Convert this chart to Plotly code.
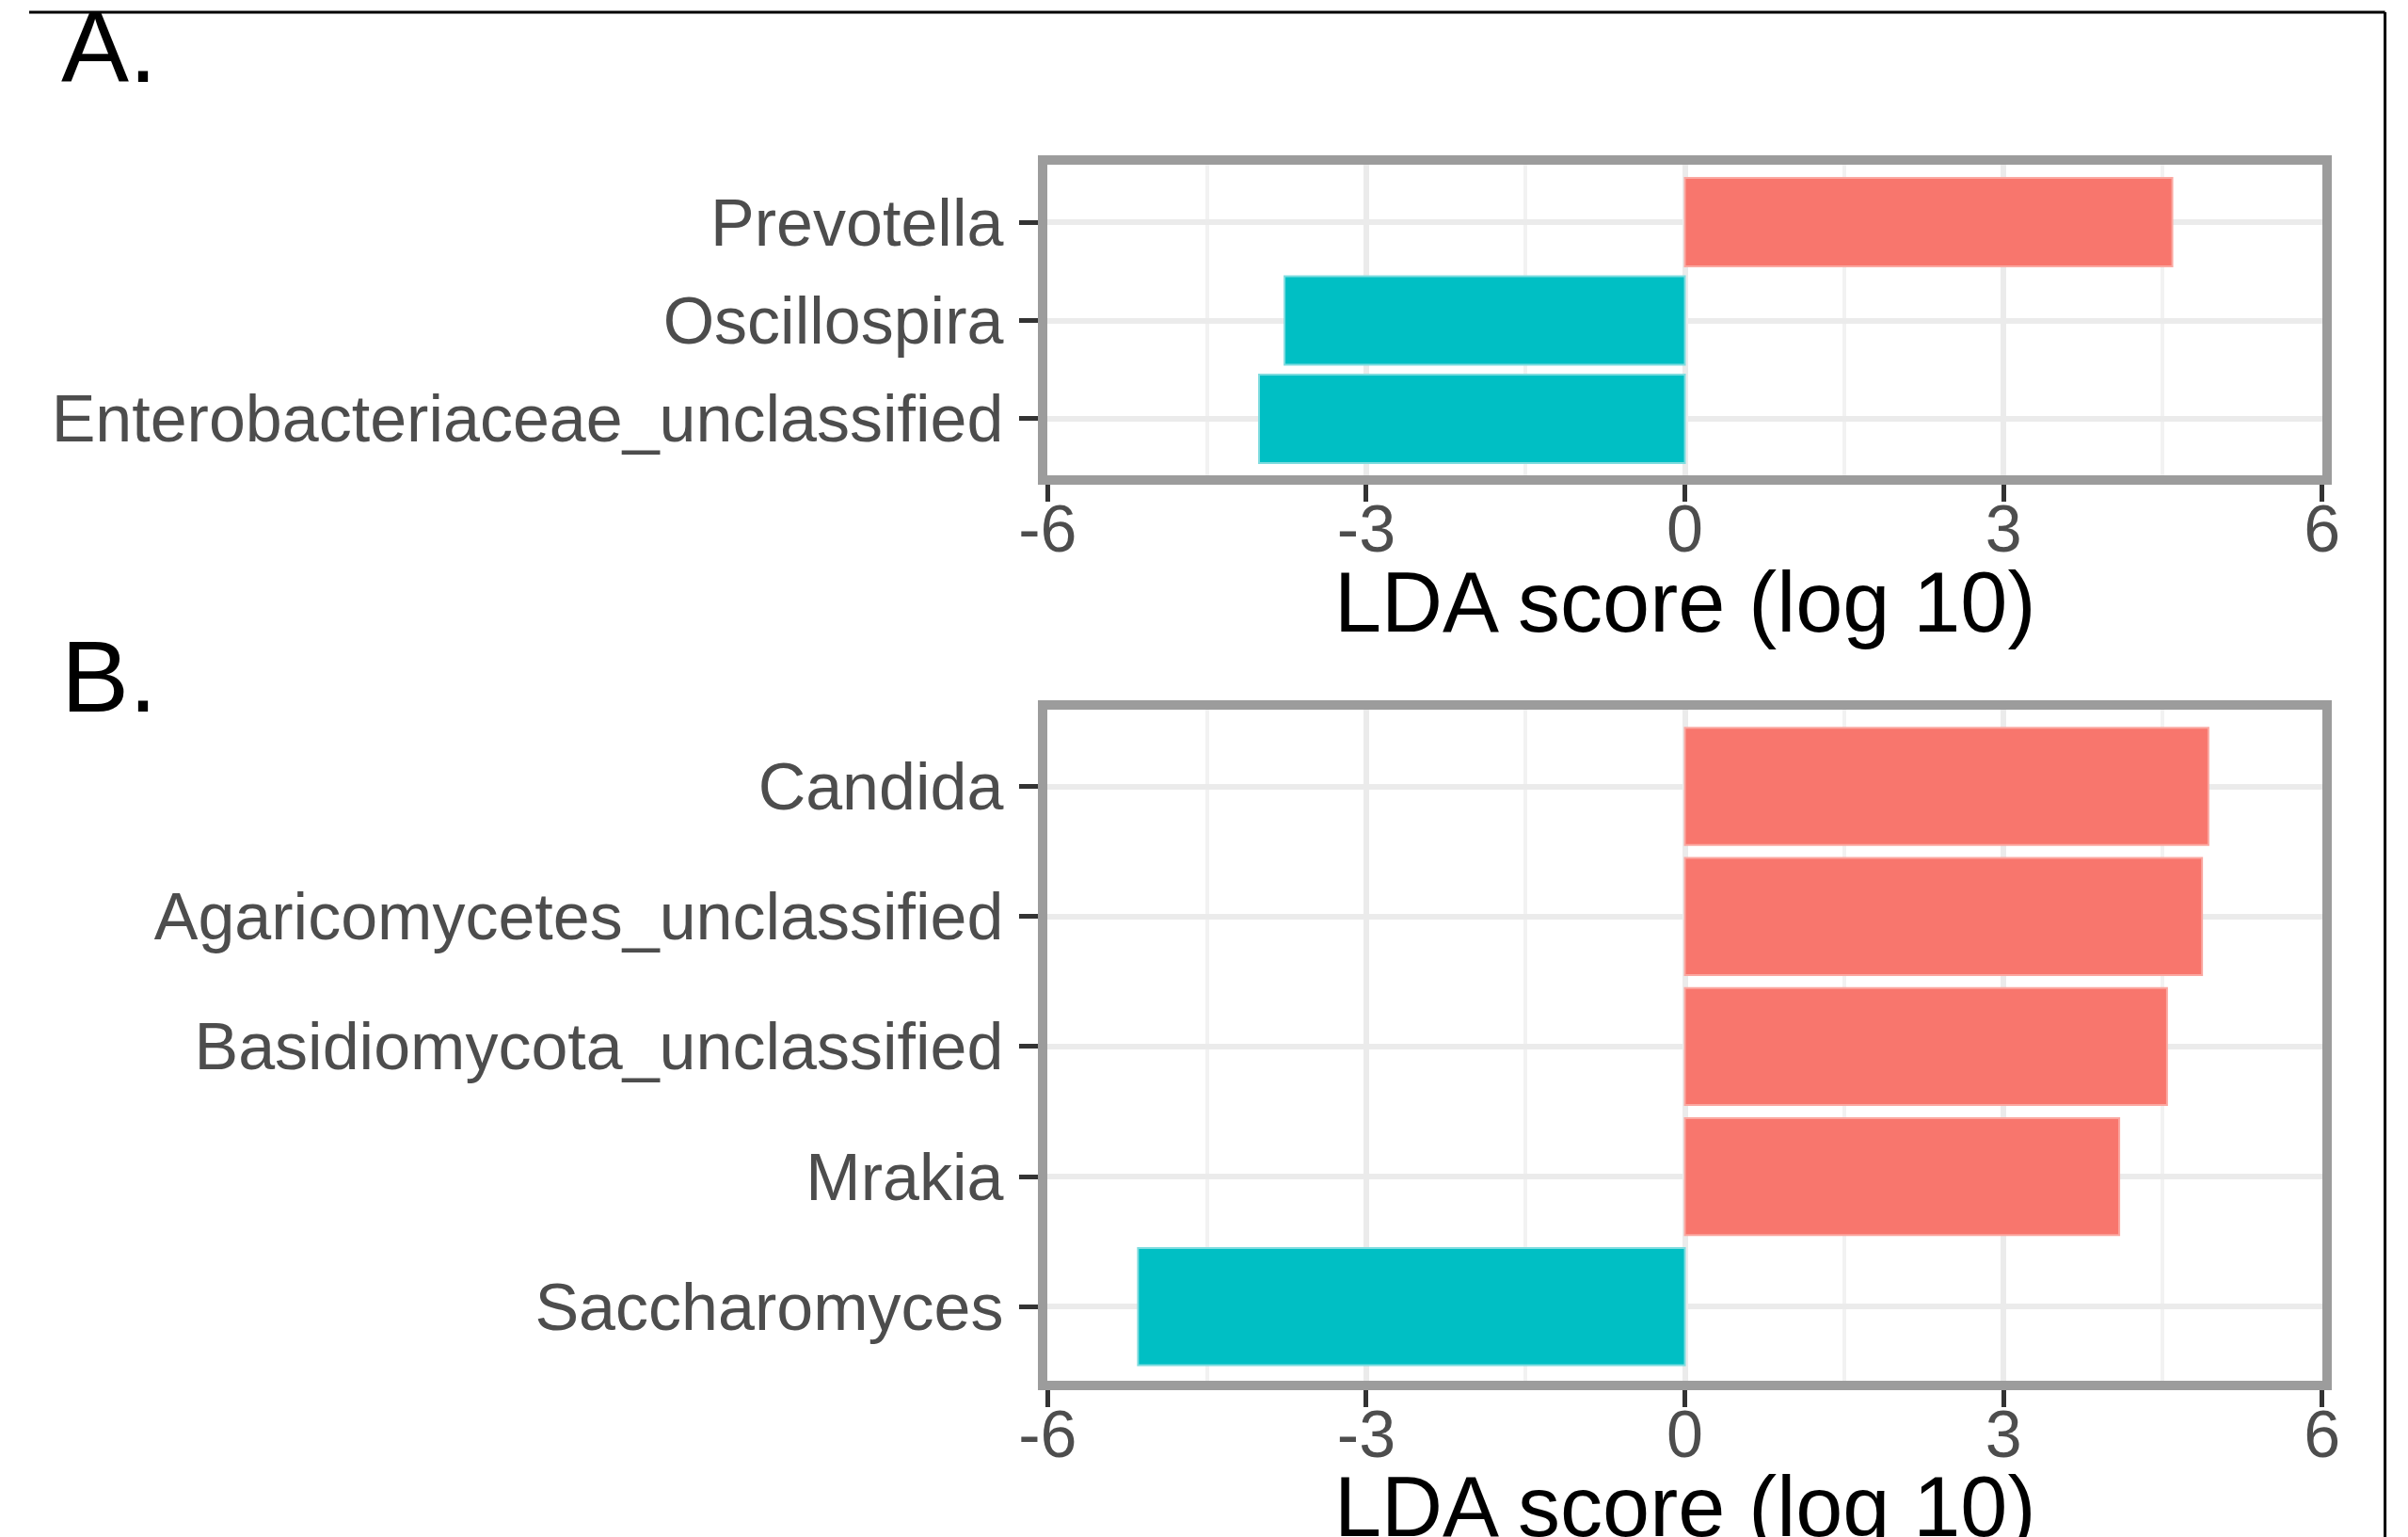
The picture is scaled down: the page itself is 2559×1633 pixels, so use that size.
import plotly.graph_objects as go

W, H = 2559, 1633

# ---- data ----
genera_a = ["Prevotella", "Oscillospira", "Enterobacteriaceae_unclassified"]
lda_a = [4.59, -3.77, -4.01]
genera_b = ["Candida", "Agaricomycetes_unclassified", "Basidiomycota_unclassified",
            "Mrakia", "Saccharomyces"]
lda_b = [4.93, 4.87, 4.54, 4.09, -5.15]
x_ticks = [-6, -3, 0, 3, 6]
x_tick_labels = ["-6", "-3", "0", "3", "6"]
panel_labels = ["A.", "B."]
axis_title = "LDA score (log 10)"

RED, TEAL = "#F8766D", "#00BFC4"
RED_EDGE, TEAL_EDGE = "#FBA8A1", "#7FDCDF"
FONT = "Liberation Sans, Arial, Helvetica, sans-serif"

# the captured picture is slightly squeezed horizontally: x_pic ~ 28 + 0.981 * x
SX, OX = 0.981, 28.0


def fx(p):
    return ((p - OX) / SX) / W


def fy(p):
    return 1 - p / H


def colors(vals):
    return [RED if v > 0 else TEAL for v in vals]


def edges(vals):
    return [RED_EDGE if v > 0 else TEAL_EDGE for v in vals]


fig = go.Figure()
fig.add_trace(go.Bar(x=lda_a, y=genera_a, orientation="h", width=0.9,
                     marker=dict(color=colors(lda_a),
                                 line=dict(color=edges(lda_a), width=2)),
                     xaxis="x", yaxis="y", showlegend=False, hoverinfo="x+y"))
fig.add_trace(go.Bar(x=lda_b, y=genera_b, orientation="h", width=0.9,
                     marker=dict(color=colors(lda_b),
                                 line=dict(color=edges(lda_b), width=2)),
                     xaxis="x2", yaxis="y2", showlegend=False, hoverinfo="x+y"))

xcommon = dict(
    range=[-6, 6], tickmode="array", tickvals=x_ticks, ticktext=x_tick_labels,
    ticks="outside", ticklen=18, tickwidth=5, tickcolor="#333333",
    showline=True, linecolor="#9C9C9C", linewidth=10, mirror=True,
    showgrid=True, gridcolor="#EBEBEB", gridwidth=6, zeroline=False,
    minor=dict(tick0=0, dtick=1.5, showgrid=True, gridcolor="#F2F2F2",
               gridwidth=4, ticks=""),
    tickfont=dict(family=FONT, size=70, color="#4D4D4D"),
    ticklabelstandoff=-31,
    fixedrange=True,
)
ycommon = dict(
    type="category", ticks="outside", ticklen=20, tickwidth=5,
    tickcolor="#333333", showline=True, linecolor="#9C9C9C", linewidth=10,
    mirror=True, showgrid=True, gridcolor="#EBEBEB", gridwidth=6,
    zeroline=False, tickfont=dict(family=FONT, size=70, color="#4D4D4D"),
    ticklabelstandoff=3, fixedrange=True,
)

xdom = [fx(1111), fx(2466)]

fig.update_layout(
    width=W, height=H, autosize=False,
    margin=dict(l=0, r=0, t=0, b=0, pad=0),
    paper_bgcolor="white", plot_bgcolor="white",
    bargap=0.1,
    xaxis=dict(xcommon, domain=xdom, anchor="y"),
    yaxis=dict(ycommon, domain=[fy(505), fy(175)], anchor="x",
               categoryorder="array", categoryarray=genera_a[::-1],
               range=[-0.575, 2.585]),
    xaxis2=dict(xcommon, domain=xdom, anchor="y2"),
    yaxis2=dict(ycommon, domain=[fy(1467), fy(754)], anchor="x2",
                categoryorder="array", categoryarray=genera_b[::-1],
                range=[-0.57, 4.59]),
)

# panel letters
for lab, ycen in zip(panel_labels, [49, 719]):
    fig.add_annotation(text=lab, x=fx(61), y=fy(ycen), xref="paper", yref="paper",
                       xanchor="left", yanchor="middle", showarrow=False,
                       borderpad=0,
                       font=dict(family=FONT, size=108, color="black"))

# axis titles
for ycen in [640, 1601]:
    fig.add_annotation(text=axis_title, x=fx(1788.5), y=fy(ycen), xref="paper",
                       yref="paper", xanchor="center", yanchor="middle",
                       showarrow=False,
                       font=dict(family=FONT, size=90, color="black"))

# outer frame (top and right edges visible)
fig.add_shape(type="line", xref="paper", yref="paper", x0=0, x1=fx(2533),
              y0=fy(13), y1=fy(13), line=dict(color="black", width=3))
fig.add_shape(type="line", xref="paper", yref="paper", x0=fx(2533), x1=fx(2533),
              y0=fy(13), y1=0, line=dict(color="black", width=3))

fig.write_html(
    "out.html",
    config={"displayModeBar": False},
    post_script=("document.body.style.margin='0';"
                 "document.body.style.overflow='hidden';"
                 "document.documentElement.style.overflow='hidden';"),
)
